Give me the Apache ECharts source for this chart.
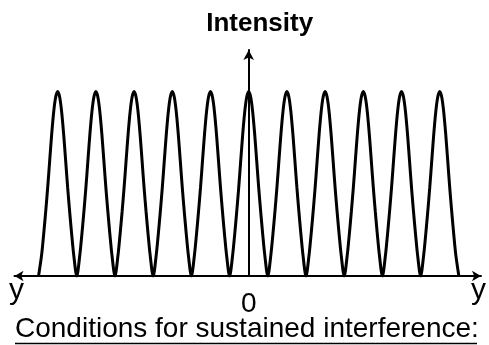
<!DOCTYPE html>
<html>
<head>
<meta charset="utf-8">
<script src="https://cdn.jsdelivr.net/npm/echarts@6/dist/echarts.min.js"></script>
<style>
  html, body { margin: 0; padding: 0; background: #fff; }
  #chart { width: 489px; height: 345px; }
</style>
</head>
<body>
<div id="chart"></div>
<script>
// Positions of the bright fringes along the screen (in fringe spacings from the centre)
var peakPositions = [-5, -4, -3, -2, -1, 0, 1, 2, 3, 4, 5];
// Shape of a single fringe: distance from its peak and relative intensity there
var fringeOffsets = [0, 0.052, 0.104, 0.156, 0.209, 0.261, 0.313, 0.365, 0.417, 0.5];
var fringeIntensity = [1, 0.97, 0.89, 0.77, 0.625, 0.48, 0.35, 0.23, 0.12, 0];
// Axis and caption text
var xTickLabels = [0];
var axisNameX = 'y';
var axisNameY = 'Intensity';
var caption = 'Conditions for sustained interference:';

// Assemble the fringe pattern point list (left trough -> peak -> right trough for every fringe)
var points = [];
peakPositions.forEach(function (p, k) {
  for (var i = fringeOffsets.length - 1; i >= 0; i--) {
    if (k > 0 && i === fringeOffsets.length - 1) continue; // shared trough
    points.push([p - fringeOffsets[i], fringeIntensity[i]]);
  }
  for (var j = 1; j < fringeOffsets.length; j++) {
    points.push([p + fringeOffsets[j], fringeIntensity[j]]);
  }
});

var FONT = 'Liberation Sans, Arial, sans-serif';
var chart = echarts.init(document.getElementById('chart'), null, { renderer: 'canvas' });
chart.setOption({
  backgroundColor: '#ffffff',
  animation: false,
  grid: { left: 14.5, right: 7.5, top: 50, bottom: 69, containLabel: false },
  xAxis: {
    type: 'value',
    min: -6.13,
    max: 6.08,
    name: axisNameX,
    nameLocation: 'end',
    nameGap: -10,
    nameTextStyle: {
      fontFamily: FONT, fontSize: 30, color: '#000',
      align: 'left', verticalAlign: 'top', padding: [0, 0, 0, 0]
    },
    axisLine: {
      onZero: false,
      symbol: ['arrow', 'arrow'],
      symbolSize: [8, 9],
      lineStyle: { color: '#000', width: 2 }
    },
    axisTick: { show: false },
    splitLine: { show: false },
    axisLabel: {
      customValues: xTickLabels,
      color: '#000',
      fontFamily: FONT,
      fontSize: 28,
      margin: 14
    }
  },
  yAxis: {
    type: 'value',
    min: 0,
    max: 1.225,
    name: axisNameY,
    nameLocation: 'end',
    nameGap: 13,
    nameTextStyle: {
      fontFamily: FONT, fontWeight: 'bold', fontSize: 26, color: '#000',
      align: 'center', padding: [0, 0, 0, 22]
    },
    axisLine: {
      show: true,
      onZero: true,
      symbol: ['none', 'arrow'],
      symbolSize: [8, 10],
      lineStyle: { color: '#000', width: 2 }
    },
    axisTick: { show: false },
    axisLabel: { show: false },
    splitLine: { show: false }
  },
  graphic: [
    {
      type: 'text', left: 9, top: 276,
      style: { text: axisNameX, fontFamily: FONT, fontSize: 30, fill: '#000' }
    },
    {
      type: 'text', left: 15, top: 315,
      style: { text: caption, fontFamily: FONT, fontSize: 28, fill: '#000' }
    },
    {
      type: 'line', shape: { x1: 15, y1: 343.5, x2: 477, y2: 343.5 },
      style: { stroke: '#000', lineWidth: 1.5 }
    }
  ],
  series: [{
    type: 'line',
    data: points,
    showSymbol: false,
    symbol: 'none',
    smooth: 0.3,
    lineStyle: { color: '#000', width: 3 },
    z: 1
  }]
});
</script>
</body>
</html>
